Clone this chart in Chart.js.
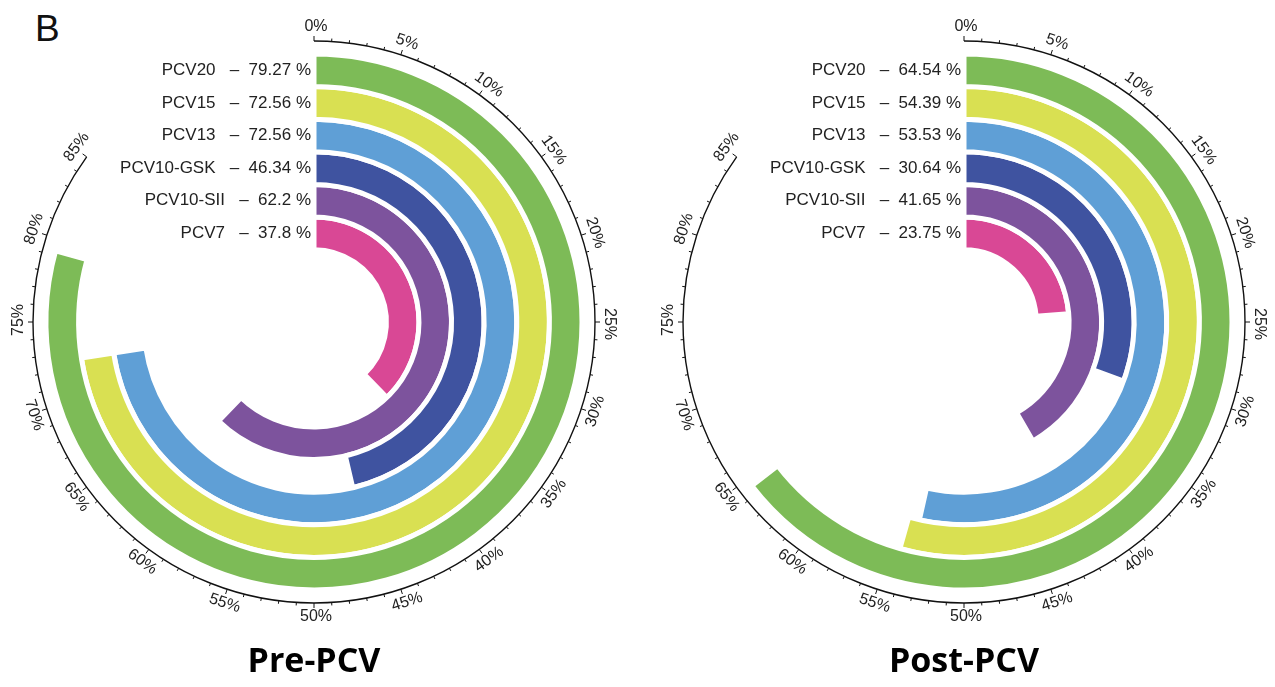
<!DOCTYPE html>
<html lang="en">
<head>
  <meta charset="UTF-8">
  <title>Pre-PCV / Post-PCV</title>
  <script src="https://cdn.jsdelivr.net/npm/chart.js"></script>
  <style>
    body {
      margin: 0;
      background: #fff;
      width: 1275px;
      height: 687px;
      overflow: hidden;
      position: relative;
      font-family: 'Liberation Sans', Arial, sans-serif;
    }
    canvas { position: absolute; top: 0; }
    #chartPre { left: 0; }
    #chartPost { left: 650px; }
    .painel {
      position: absolute;
      top: 10px;
      left: 35px;
      font-size: 37px;
      line-height: 37px;
      color: #111;
    }
    .titulo {
      position: absolute;
      top: 642px;
      width: 400px;
      text-align: center;
      font-family: 'Open Sans', sans-serif;
      font-weight: 700;
      font-size: 34px;
      line-height: 34px;
      color: #000;
    }
  </style>
</head>
<body>
  <div class="painel">B</div>
  <canvas id="chartPre" width="628" height="644"></canvas>
  <canvas id="chartPost" width="628" height="644"></canvas>
  <div class="titulo" style="left:114px">Pre-PCV</div>
  <div class="titulo" style="left:764px">Post-PCV</div>

  <script>
    // vacinas, da volta externa para a interna
    const vacinas = ['PCV20', 'PCV15', 'PCV13', 'PCV10-GSK', 'PCV10-SII', 'PCV7'];
    const coberturaPre = [79.27, 72.56, 72.56, 46.34, 62.2, 37.8];
    const coberturaPos = [64.54, 54.39, 53.53, 30.64, 41.65, 23.75];
    const cores = ['#7dbb57', '#d9e052', '#5f9fd6', '#3f53a0', '#7d539d', '#d94895'];

    // eixo circular: 0% a 85%
    const eixoMax = 85;
    const eixoTicks = [0, 5, 10, 15, 20, 25, 30, 35, 40, 45, 50, 55, 60, 65, 70, 75, 80, 85];
    const eixoLabels = ['0%', '5%', '10%', '15%', '20%', '25%', '30%', '35%', '40%', '45%',
                        '50%', '55%', '60%', '65%', '70%', '75%', '80%', '85%'];

    // desenha o eixo em volta e os rotulos das barras
    const eixoCircular = {
      id: 'eixoCircular',
      afterDatasetsDraw(chart) {
        let ctx = chart.ctx;
        let arco = chart.getDatasetMeta(0).data[0];
        let { x, y, outerRadius } = arco.getProps(['x', 'y', 'outerRadius'], true);
        let R = outerRadius + 13;
        let ang = p => -Math.PI / 2 + p / 100 * 2 * Math.PI;

        ctx.save();
        ctx.strokeStyle = '#111';
        ctx.lineWidth = 1.4;
        ctx.beginPath();
        ctx.arc(x, y, R, ang(0), ang(eixoMax));
        ctx.stroke();

        ctx.lineWidth = 1;
        for (let p = 0; p <= eixoMax; p++) {
          let len = p % 5 === 0 ? 5 : 3;
          let a = ang(p);
          ctx.beginPath();
          ctx.moveTo(x + R * Math.cos(a), y + R * Math.sin(a));
          ctx.lineTo(x + (R + len) * Math.cos(a), y + (R + len) * Math.sin(a));
          ctx.stroke();
        }

        ctx.fillStyle = '#222';
        ctx.font = '16px "Liberation Sans", Arial, sans-serif';
        ctx.textAlign = 'center';
        ctx.textBaseline = 'middle';
        eixoTicks.forEach((p, i) => {
          let graus = p * 3.6;
          let a = ang(p);
          let rl = R + 14;
          let rot = (graus > 90 && graus < 270) ? graus - 180 : graus;
          ctx.save();
          ctx.translate(x + rl * Math.cos(a), y + rl * Math.sin(a));
          ctx.rotate(rot * Math.PI / 180);
          ctx.fillText(eixoLabels[i], 2, 0);
          ctx.restore();
        });

        // rotulos a esquerda de cada barra
        ctx.font = '17px "Liberation Sans", Arial, sans-serif';
        ctx.textAlign = 'right';
        chart.data.datasets.forEach((ds, i) => {
          let el = chart.getDatasetMeta(i).data[0];
          let { innerRadius, outerRadius: ro } = el.getProps(['innerRadius', 'outerRadius'], true);
          let rm = (innerRadius + ro) / 2;
          ctx.fillText(ds.label + '   \u2013  ' + ds.data[0] + ' %', x - 3, y - rm);
        });
        ctx.restore();
      }
    };

    function gerarGrafico(id, valores) {
      let ctx = document.getElementById(id).getContext('2d');
      return new Chart(ctx, {
        type: 'doughnut',
        data: {
          labels: ['valor', 'resto'],
          datasets: vacinas.map((v, i) => ({
            label: v,
            data: [valores[i], 100 - valores[i]],
            backgroundColor: [cores[i], 'rgba(0,0,0,0)'],
            borderColor: '#ffffff',
            borderWidth: [5, 0]
          }))
        },
        options: {
          responsive: false,
          animation: false,
          events: [],
          radius: 268,
          cutout: '27%',
          plugins: {
            legend: { display: false },
            tooltip: { enabled: false }
          }
        },
        plugins: [eixoCircular]
      });
    }

    gerarGrafico('chartPre', coberturaPre);
    gerarGrafico('chartPost', coberturaPos);
  </script>
</body>
</html>
